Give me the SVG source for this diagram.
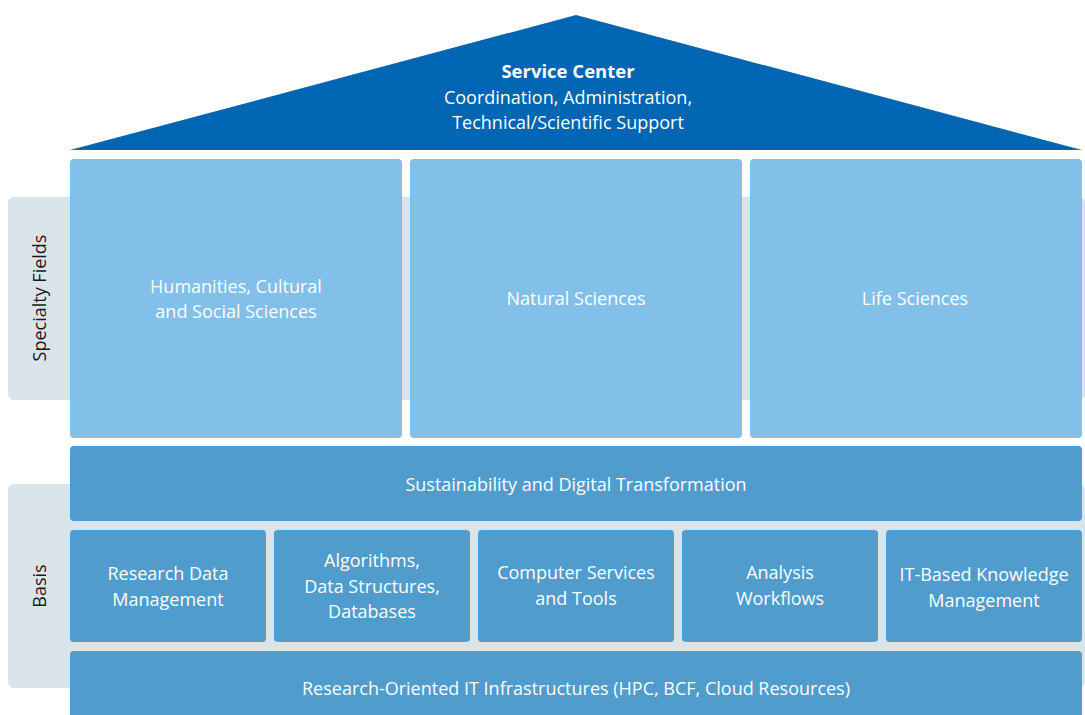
<svg xmlns="http://www.w3.org/2000/svg" width="1085" height="715" viewBox="0 0 1085 715">
<style>
.t{font-family:"Open Sans","Liberation Sans",sans-serif;font-size:18px;fill:#ffffff;text-anchor:middle}
.b{font-weight:bold;font-size:18.5px}
.s{font-family:"Open Sans","Liberation Sans",sans-serif;font-size:18px;fill:#1a1a1a;text-anchor:middle}
.lt{fill:#82c0ea}
.dk{fill:#509ccc}
.gr{fill:#d9e4eb}
</style>
<rect width="1085" height="715" fill="#ffffff"/>
<g id="bands">
<rect class="gr" x="8" y="197" width="1077" height="203" rx="6"/>
<rect class="gr" x="8" y="484" width="1077" height="204" rx="6"/>
<rect class="gr" x="70" y="521" width="1015" height="130"/>
</g>
<g id="service-center">
<polygon points="576,15 70,150 1082,150" fill="#0066b3"/>
<text class="t b" x="568" y="78">Service Center</text>
<text class="t" x="568" y="104">Coordination, Administration,</text>
<text class="t" x="568" y="129">Technical/Scientific Support</text>
</g>
<g id="specialty-label"><text class="s" transform="translate(46,298) rotate(-90)">Specialty Fields</text></g>
<g id="basis-label"><text class="s" transform="translate(46,586) rotate(-90)">Basis</text></g>
<g id="humanities">
<rect class="lt" x="70" y="159" width="332" height="279" rx="4"/>
<text class="t" x="236" y="293">Humanities, Cultural</text>
<text class="t" x="236" y="318">and Social Sciences</text>
</g>
<g id="natural">
<rect class="lt" x="410" y="159" width="332" height="279" rx="4"/>
<text class="t" x="576" y="305">Natural Sciences</text>
</g>
<g id="life">
<rect class="lt" x="750" y="159" width="332" height="279" rx="4"/>
<text class="t" x="915" y="305">Life Sciences</text>
</g>
<g id="sustainability">
<rect class="dk" x="70" y="446" width="1012" height="75" rx="4"/>
<text class="t" x="576" y="491">Sustainability and Digital Transformation</text>
</g>
<g id="rdm">
<rect class="dk" x="70" y="530" width="196" height="112" rx="4"/>
<text class="t" x="168" y="580">Research Data</text>
<text class="t" x="168" y="606">Management</text>
</g>
<g id="algorithms">
<rect class="dk" x="274" y="530" width="196" height="112" rx="4"/>
<text class="t" x="372" y="567">Algorithms,</text>
<text class="t" x="372" y="593">Data Structures,</text>
<text class="t" x="372" y="618">Databases</text>
</g>
<g id="computer">
<rect class="dk" x="478" y="530" width="196" height="112" rx="4"/>
<text class="t" x="576" y="579">Computer Services</text>
<text class="t" x="576" y="605">and Tools</text>
</g>
<g id="analysis">
<rect class="dk" x="682" y="530" width="196" height="112" rx="4"/>
<text class="t" x="780" y="579">Analysis</text>
<text class="t" x="780" y="605">Workflows</text>
</g>
<g id="itbased">
<rect class="dk" x="886" y="530" width="196" height="112" rx="4"/>
<text class="t" x="984" y="581">IT-Based Knowledge</text>
<text class="t" x="984" y="607">Management</text>
</g>
<g id="infrastructure">
<rect class="dk" x="70" y="651" width="1012" height="70" rx="4"/>
<text class="t" x="576" y="695">Research-Oriented IT Infrastructures (HPC, BCF, Cloud Resources)</text>
</g>
<g id="connectors"></g>
</svg>
